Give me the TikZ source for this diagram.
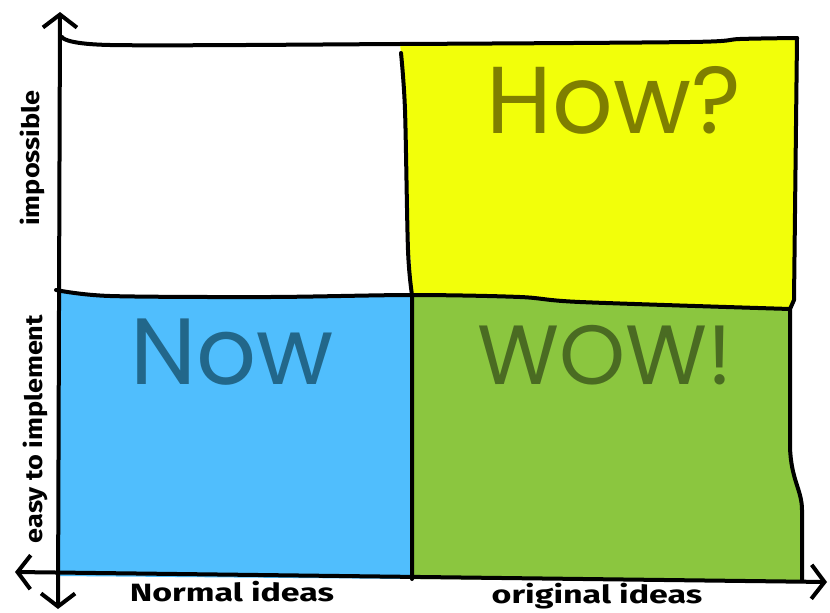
\documentclass[tikz,border=0pt]{standalone}
\usepackage{fontspec}
\usepackage{xcolor}
\usepackage{tikz}
\usetikzlibrary{arrows.meta}
\newfontfamily\handfont{Poppins}
\newfontfamily\axisfont[FakeStretch=1.13]{Fira Sans}
\newfontfamily\ideafont[FakeStretch=1.36]{Fira Sans}

\begin{document}
\begin{tikzpicture}[x=1pt,y=-1pt,line join=round,line cap=round,
  >={Straight Barb[length=13pt,width=34pt]}]
\definecolor{cellHow}{HTML}{F2FF0A}
\definecolor{cellNow}{HTML}{50BEFD}
\definecolor{cellWow}{HTML}{8BC63F}
\definecolor{inkHow}{HTML}{7F7F00}
\definecolor{inkNow}{HTML}{22678A}
\definecolor{inkWow}{HTML}{4A6B22}
\useasboundingbox (0,0) rectangle (830,613);
\fill[white] (0,0) rectangle (830,613);
\fill[cellHow] (400,44) -- (690,42) -- (797,38) -- (794,300) -- (790,309) -- (580,302) -- (520,297) -- (412,295) -- (401,53) -- cycle;
\fill[cellNow] (58,291) -- (110,296) -- (270,297) -- (412,295) -- (412,579) -- (58,576) -- cycle;
\fill[cellWow] (412,295) -- (520,297) -- (580,302) -- (790,309) -- (790,447) .. controls (791,480) and (802,490) .. (802,510) -- (802,581) -- (412,579) -- cycle;
\draw[line width=4pt] plot[smooth] coordinates {(62,37) (110,45) (400,44) (690,42) (740,39) (797,38)};
\draw[line width=4pt] (797,38) -- (794,300) -- (790,309) -- (790,447) .. controls (791,480) and (802,490) .. (802,510) -- (802,581);
\draw[line width=4pt] plot[smooth] coordinates {(56,290) (110,296) (270,297) (412,295) (520,297) (580,302) (790,309)};
\draw[line width=4pt] plot[smooth] coordinates {(401,53) (405,110) (408,250) (412,295)} -- (412,579);
\draw[line width=4pt,<->] (58,609) -- (60,12);
\draw[line width=4pt,<->] (15,572) -- (827,582);
\node[font=\handfont\fontsize{95}{95}\selectfont,text=inkHow] (how) at (614,100) {How?};
\node[font=\handfont\fontsize{94}{94}\selectfont,text=inkNow] (now) at (232,352) {Now};
\node[font=\handfont\fontsize{84}{84}\selectfont,text=inkWow] (wow) at (605,355) {WOW!};
\node[font=\axisfont\bfseries\fontsize{24}{24}\selectfont,rotate=90] (hard) at (32,158) {impossible};
\node[font=\axisfont\bfseries\fontsize{24}{24}\selectfont,rotate=90] (easy) at (35,429) {easy to implement};
\node[font=\ideafont\bfseries\fontsize{25}{25}\selectfont] (normal) at (232,592) {Normal ideas};
\node[font=\ideafont\bfseries\fontsize{25}{25}\selectfont] (orig) at (597,596) {original ideas};
\end{tikzpicture}
\end{document}
